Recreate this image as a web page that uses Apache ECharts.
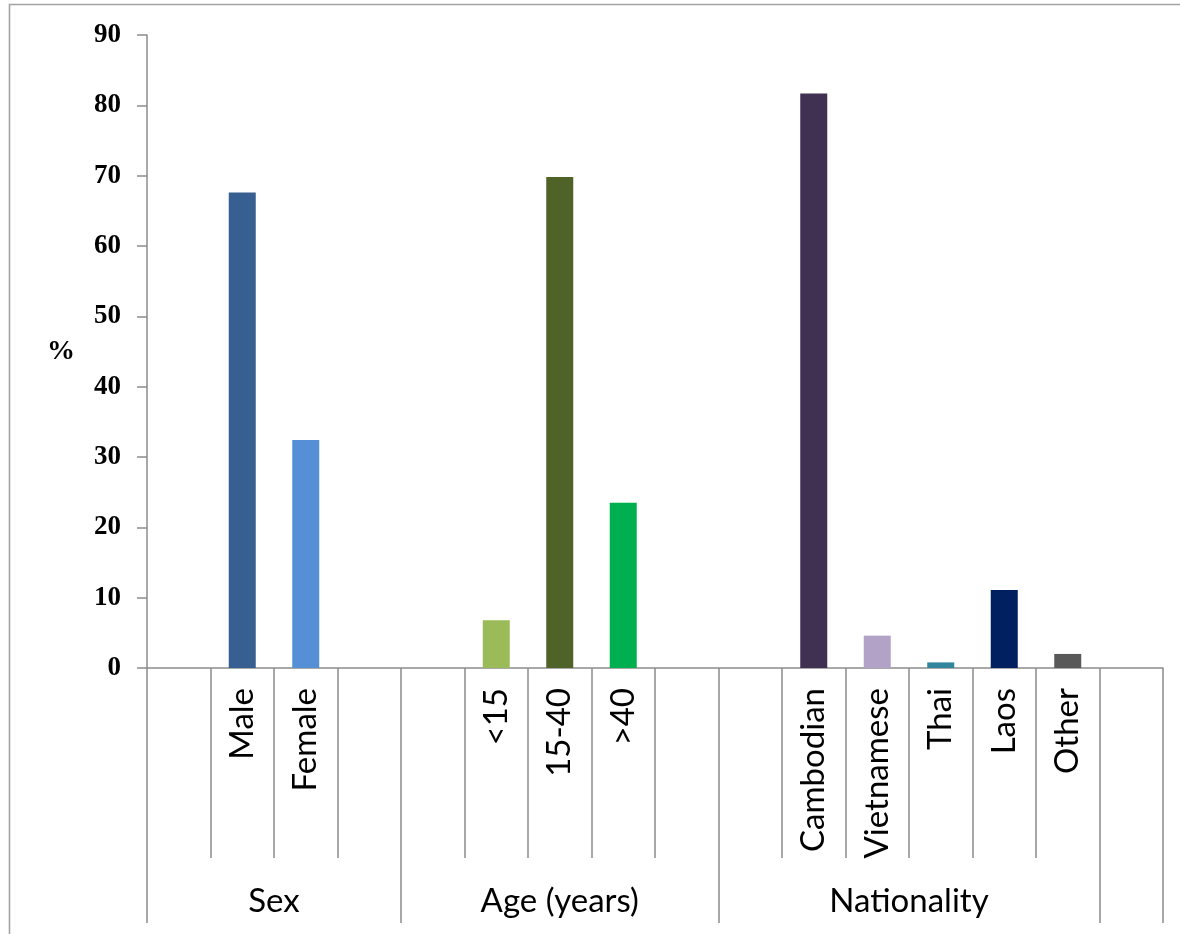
<!DOCTYPE html>
<html>
<head>
<meta charset="utf-8">
<title>Patient characteristics</title>
<script src="https://cdn.jsdelivr.net/npm/echarts@6/dist/echarts.min.js"></script>
<style>
  html, body { margin: 0; padding: 0; background: #fff; }
  #chart { width: 1180px; height: 934px; }
</style>
</head>
<body>
<div id="chart"></div>
<script>
// Category slots along the x axis; blank slots pad the groups apart.
const categories = ['', 'Male', 'Female', '', '', '<15', '15-40', '>40', '', '',
                    'Cambodian', 'Vietnamese', 'Thai', 'Laos', 'Other', ''];
// Percentage for each slot (null = empty slot).
const percentages = [null, 67.6, 32.4, null, null, 6.8, 69.8, 23.5, null, null,
                     81.7, 4.6, 0.8, 11.1, 2.0, null];
// Outer grouping: names and the slot index where each group starts / ends.
const groupNames = ['Sex', 'Age (years)', 'Nationality'];
const groupStarts = [0, 4, 9];
const groupEnds = [4, 9, 15];
// Y axis tick values.
const yTicks = [0, 10, 20, 30, 40, 50, 60, 70, 80, 90];

const barColors = ['#000', '#375F92', '#5590D6', '#000', '#000', '#9BBB59', '#4F6228',
                   '#00B050', '#000', '#000', '#403152', '#B3A2C7', '#31859C',
                   '#002060', '#595959', '#000'];

const axisGray = '#8c8c8c';
const slotCount = categories.length;
const groupCenters = groupStarts.map((s, i) => (s + groupEnds[i]) / 2);
const groupBoundaries = Array.from(new Set(groupStarts.concat(groupEnds, [slotCount])));

const chart = echarts.init(document.getElementById('chart'), null, { renderer: 'canvas' });

chart.setOption({
  animation: false,
  backgroundColor: '#ffffff',
  grid: { left: 147, right: 17, top: 35, bottom: 266, containLabel: false },
  graphic: [{
    type: 'rect',
    shape: { x: 9.5, y: 4.5, width: 1300, height: 1100 },
    style: { fill: 'none', stroke: '#a3a3a3', lineWidth: 1.6 },
    silent: true
  }],
  xAxis: [{
    type: 'category',
    position: 'bottom',
    data: categories,
    boundaryGap: true,
    axisLine: { show: true, lineStyle: { color: axisGray, width: 1.5 } },
    axisTick: {
      show: true,
      length: 190,
      interval: (idx) => !groupBoundaries.includes(idx),
      lineStyle: { color: axisGray, width: 1.5 }
    },
    axisLabel: {
      interval: 0,
      rotate: 90,
      margin: 20,
      fontFamily: 'Lato',
      fontSize: 33,
      color: '#000'
    }
  }, {
    type: 'value',
    position: 'bottom',
    min: 0,
    max: slotCount,
    axisLine: { show: false },
    splitLine: { show: false },
    axisTick: {
      show: true,
      length: 255,
      customValues: groupBoundaries,
      lineStyle: { color: axisGray, width: 1.5 }
    },
    axisLabel: {
      show: true,
      customValues: groupCenters,
      margin: 217,
      formatter: (v) => groupNames[groupCenters.indexOf(v)] || '',
      fontFamily: 'Lato',
      fontSize: 33,
      color: '#000'
    }
  }],
  yAxis: {
    type: 'value',
    min: yTicks[0],
    max: yTicks[yTicks.length - 1],
    interval: 10,
    name: '%',
    nameLocation: 'middle',
    nameRotate: 0,
    nameGap: 72,
    nameTextStyle: { fontFamily: 'Liberation Serif', fontWeight: 'bold', fontSize: 28, color: '#000' },
    axisLine: { show: true, lineStyle: { color: axisGray, width: 1.5 } },
    axisTick: { show: true, length: 10, lineStyle: { color: axisGray, width: 1.5 } },
    splitLine: { show: false },
    axisLabel: {
      margin: 26,
      fontFamily: 'Liberation Serif',
      fontWeight: 'bold',
      fontSize: 27,
      color: '#000'
    }
  },
  series: [{
    type: 'bar',
    xAxisIndex: 0,
    barWidth: 27,
    data: percentages.map((v, i) => ({ value: v, itemStyle: { color: barColors[i] } }))
  }]
});
</script>
</body>
</html>
